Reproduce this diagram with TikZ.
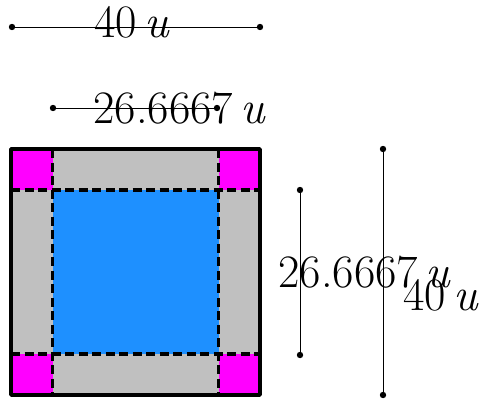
\documentclass[tikz,border=0pt]{standalone}
\definecolor{cornerpink}{RGB}{255,0,255}
\definecolor{bargray}{RGB}{192,192,192}
\definecolor{coreblue}{RGB}{30,144,255}
\begin{document}
\begin{tikzpicture}[x=1pt,y=-1pt,
  measure/.style={line width=1pt,black},
  enddot/.style={fill=black},
  lbl/.style={inner sep=0pt,anchor=base,font=\fontsize{46.5}{56}\selectfont},
  dashline/.style={line width=3.5pt,dash pattern=on 9pt off 4.5pt},
  outline/.style={line width=3.8pt,line join=round}]
\useasboundingbox (0,0) rectangle (484,399);
% square corners
\coordinate (O1) at (11,149);
\coordinate (O2) at (260,395);
\coordinate (I1) at (52.5,190);
\coordinate (I2) at (218.5,354);
% fills
\fill[bargray] (O1) rectangle (O2);
\fill[coreblue] (I1) rectangle (I2);
\fill[cornerpink] (O1) rectangle (I1);
\fill[cornerpink] (I2 |- O1) rectangle (O2 |- I1);
\fill[cornerpink] (O1 |- I2) rectangle (I1 |- O2);
\fill[cornerpink] (I2) rectangle (O2);
% dashed grid lines
\draw[dashline] (O1 |- I1) -- (O2 |- I1);
\draw[dashline] (O1 |- I2) -- (O2 |- I2);
\draw[dashline] (I1 |- O1) -- (I1 |- O2);
\draw[dashline] (I2 |- O1) -- (I2 |- O2);
% outer border
\draw[outline] (O1) rectangle (O2);
% measurement lines
\coordinate (t1) at (12,27);
\coordinate (t2) at (260,27);
\coordinate (s1) at (53,108);
\coordinate (s2) at (217,108);
\coordinate (v1) at (300,190);
\coordinate (v2) at (300,355);
\coordinate (w1) at (383,149);
\coordinate (w2) at (383,395);
\draw[measure] (t1) -- (t2);
\draw[measure] (s1) -- (s2);
\draw[measure] (v1) -- (v2);
\draw[measure] (w1) -- (w2);
\foreach \p in {t1,t2,s1,s2,v1,v2,w1,w2} \fill[enddot] (\p) circle (3.2pt);
% labels
\node[lbl] (lt) at (132.5,37) {40\,\textit{u}};
\node[lbl] (ls) at (180,123) {26.6667\,\textit{u}};
\node[lbl] (lv) at (365,287) {26.6667\,\textit{u}};
\node[lbl] (lw) at (441.5,310) {40\,\textit{u}};
\end{tikzpicture}
\end{document}
